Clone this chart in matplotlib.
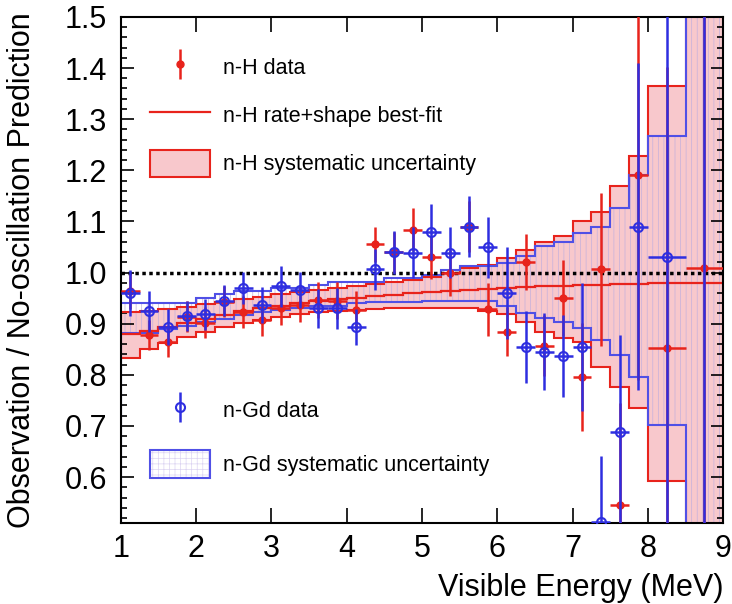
import numpy as np
import matplotlib
matplotlib.use('Agg')
import matplotlib.pyplot as plt
from matplotlib.patches import Patch
from matplotlib.lines import Line2D
from matplotlib.legend_handler import HandlerErrorbar, HandlerTuple

plt.rcParams['font.family'] = ['Liberation Sans', 'DejaVu Sans']
plt.rcParams['hatch.linewidth'] = 0.5

# bin edges (MeV)
edges = [1.0, 1.25, 1.5, 1.75, 2.0, 2.25, 2.5, 2.75, 3.0, 3.25, 3.5, 3.75, 4.0,
         4.25, 4.5, 4.75, 5.0, 5.25, 5.5, 5.75, 6.0, 6.25, 6.5, 6.75, 7.0,
         7.25, 7.5, 7.75, 8.0, 8.5, 9.0]

# n-H data
nh_val = [0.963, 0.878, 0.864, 0.914, 0.902, 0.943, 0.923, 0.908, 0.930, 0.937,
          0.947, 0.945, 0.927, 1.055, 1.040, 1.084, 1.030, 1.000, 1.090, 0.928,
          0.884, 1.020, 0.857, 0.950, 0.796, 1.006, 0.545, 1.190, 0.853, 1.008]
nh_err = [0.035, 0.030, 0.030, 0.030, 0.030, 0.030, 0.032, 0.032, 0.033, 0.034,
          0.035, 0.036, 0.037, 0.035, 0.040, 0.042, 0.042, 0.045, 0.050, 0.052,
          0.048, 0.055, 0.060, 0.075, 0.106, 0.150, 0.200, 0.400, 0.550, 0.700]

# n-H best fit and systematic band
nh_fit = [0.880, 0.886, 0.894, 0.902, 0.910, 0.917, 0.924, 0.930, 0.935, 0.940,
          0.944, 0.948, 0.951, 0.954, 0.957, 0.960, 0.962, 0.964, 0.966, 0.968,
          0.970, 0.971, 0.973, 0.974, 0.975, 0.976, 0.977, 0.978, 0.979, 0.980]
nh_hi = [0.922, 0.925, 0.928, 0.933, 0.938, 0.943, 0.948, 0.953, 0.958, 0.962,
         0.966, 0.970, 0.974, 0.978, 0.982, 0.986, 0.992, 1.000, 1.008, 1.014,
         1.029, 1.045, 1.059, 1.071, 1.100, 1.118, 1.169, 1.228, 1.365, 1.600]
nh_lo = [0.833, 0.850, 0.863, 0.873, 0.884, 0.893, 0.902, 0.908, 0.914, 0.919,
         0.922, 0.925, 0.927, 0.929, 0.930, 0.931, 0.931, 0.931, 0.930, 0.925,
         0.918, 0.904, 0.884, 0.872, 0.865, 0.816, 0.776, 0.735, 0.592, 0.300]

# n-Gd data
gd_val = [0.960, 0.924, 0.894, 0.915, 0.918, 0.945, 0.970, 0.937, 0.973, 0.966,
          0.930, 0.930, 0.894, 1.006, 1.040, 1.039, 1.080, 1.039, 1.090, 1.049,
          0.960, 0.854, 0.845, 0.837, 0.855, 0.512, 0.688, 1.090, 1.030, 0.300]
gd_err = [0.045, 0.040, 0.035, 0.030, 0.030, 0.030, 0.032, 0.035, 0.040, 0.036,
          0.038, 0.040, 0.035, 0.040, 0.042, 0.050, 0.055, 0.050, 0.060, 0.060,
          0.090, 0.070, 0.075, 0.080, 0.125, 0.130, 0.190, 0.320, 0.600, 1.300]

# n-Gd systematic band
gd_hi = [0.941, 0.941, 0.941, 0.941, 0.951, 0.959, 0.963, 0.963, 0.970, 0.970,
         0.975, 0.982, 0.982, 0.982, 0.990, 0.990, 0.996, 1.005, 1.012, 1.012,
         1.019, 1.032, 1.051, 1.060, 1.077, 1.090, 1.127, 1.190, 1.267, 1.600]
gd_lo = [0.882, 0.882, 0.890, 0.896, 0.903, 0.910, 0.917, 0.922, 0.927, 0.930,
         0.934, 0.934, 0.940, 0.943, 0.943, 0.943, 0.945, 0.945, 0.945, 0.945,
         0.935, 0.921, 0.911, 0.904, 0.892, 0.869, 0.839, 0.796, 0.702, 0.300]

RED = '#e8231c'
PINK = '#f8c8cc'
BLUE = '#2e2ee0'
BLUE_BAND = '#5050e6'
HATCH = '#c4b0dc'

e = np.array(edges)
centers = 0.5 * (e[1:] + e[:-1])
half = 0.5 * (e[1:] - e[:-1])

fig = plt.figure(figsize=(7.32, 6.04), dpi=100)
ax = fig.add_axes([0.165, 0.134, 0.823, 0.838])

# bands
ax.stairs(nh_hi, edges, baseline=nh_lo, fill=True, color=PINK, lw=0, zorder=1)
ax.stairs(gd_hi, edges, baseline=gd_lo, fill=True, facecolor='none',
          edgecolor=HATCH, hatch='|||', lw=0, zorder=1.5)
ax.stairs(nh_hi, edges, baseline=None, color=RED, lw=1.5, zorder=2)
ax.stairs(nh_lo, edges, baseline=None, color=RED, lw=1.5, zorder=2)
ax.stairs(gd_hi, edges, baseline=None, color=BLUE_BAND, lw=1.5, zorder=2.1)
ax.stairs(gd_lo, edges, baseline=0, color=BLUE_BAND, lw=1.5, zorder=2.1)
ax.stairs(nh_fit, edges, baseline=None, color=RED, lw=1.6, zorder=2.2)

ax.axhline(1.0, color='black', ls=(0, (1.0, 1.0)), lw=2.5, zorder=2.5)

# data points
eb_h = ax.errorbar(centers, nh_val, xerr=half, yerr=nh_err, fmt='o', color=RED,
                   ms=5, lw=1.8, capsize=0, zorder=3)
eb_g = ax.errorbar(centers, gd_val, xerr=half, yerr=gd_err, fmt='o', color=BLUE,
                   mfc='none', mec=BLUE, mew=1.5, ms=6.5, lw=1.8, capsize=0,
                   zorder=4)

ax.set_xlim(1, 9)
ax.set_ylim(0.51, 1.5)
ax.set_xticks(range(1, 10))
ax.set_yticks([0.6, 0.7, 0.8, 0.9, 1.0, 1.1, 1.2, 1.3, 1.4, 1.5])
ax.set_yticklabels(['0.6', '0.7', '0.8', '0.9', '1.0', '1.1', '1.2', '1.3', '1.4', '1.5'])
ax.yaxis.set_minor_locator(matplotlib.ticker.MultipleLocator(0.02))
ax.tick_params(which='both', direction='in', top=True, right=True, width=1.2)
ax.tick_params(which='major', length=9, labelsize=22)
ax.tick_params(axis='x', which='major', length=11, pad=8)
ax.tick_params(axis='y', which='major', pad=10)
ax.tick_params(which='minor', length=4.5)
for s in ax.spines.values():
    s.set_linewidth(1.5)

ax.set_xlabel('Visible Energy (MeV)', fontsize=22, loc='right', labelpad=6)
ax.set_ylabel('Observation / No-oscillation Prediction', fontsize=22, labelpad=20)

# legends
hmap = {type(eb_h): HandlerErrorbar(xerr_size=0, yerr_size=0.7)}
h_sys = Patch(facecolor=PINK, edgecolor=RED, lw=1.5)
h_fit = Line2D([], [], color=RED, lw=1.6)
leg1 = ax.legend([eb_h, h_fit, h_sys],
                 ['n-H data', 'n-H rate+shape best-fit', 'n-H systematic uncertainty'],
                 loc='upper left', bbox_to_anchor=(0.048, 0.928), frameon=False,
                 fontsize=15.5, handlelength=2.8, handleheight=1.6,
                 handletextpad=0.6, labelspacing=0.95, borderpad=0,
                 borderaxespad=0, numpoints=1, handler_map=hmap)
ax.add_artist(leg1)

h_gsys = (Patch(facecolor='none', edgecolor='#dcd4f2', hatch='+++', lw=0),
          Patch(facecolor='none', edgecolor=BLUE_BAND, lw=1.5))
hmap2 = {type(eb_g): HandlerErrorbar(xerr_size=0, yerr_size=0.7),
         tuple: HandlerTuple(ndivide=1)}
ax.legend([eb_g, h_gsys], ['n-Gd data', 'n-Gd systematic uncertainty'],
          loc='upper left', bbox_to_anchor=(0.048, 0.25), frameon=False,
          fontsize=15.5, handlelength=2.8, handleheight=1.6,
          handletextpad=0.6, labelspacing=1.2, borderpad=0,
          borderaxespad=0, numpoints=1, handler_map=hmap2)

fig.savefig('out.png', dpi=100)
